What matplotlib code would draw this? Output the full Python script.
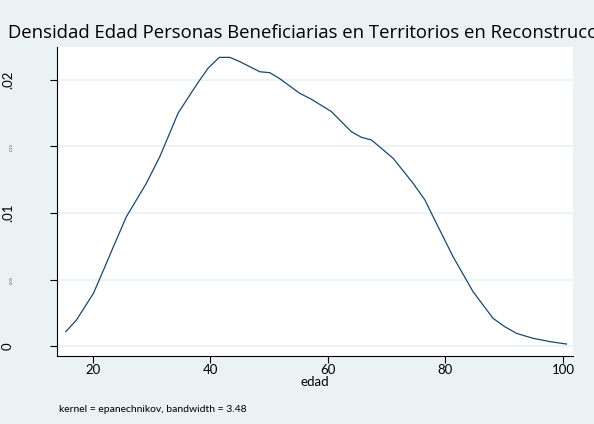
import matplotlib.pyplot as plt

# kernel density of edad
edad = [15.4, 17.2, 20.1, 21.8, 23.5, 25.7, 29.1, 31.4, 34.5, 36.5, 38.2, 39.6,
        41.5, 43.3, 45.0, 46.7, 48.4, 50.1, 51.8, 53.8, 55.2, 57.2, 60.6, 64.0,
        65.7, 67.4, 69.1, 71.1, 74.5, 76.5, 77.9, 81.3, 84.7, 88.1, 90.1, 92.1,
        94.9, 97.8, 100.6]
densidad = [0.00108, 0.00195, 0.00396, 0.0057, 0.00747, 0.00972, 0.01223, 0.01424,
            0.0175, 0.01887, 0.0200, 0.02088, 0.0217, 0.0217, 0.02138, 0.0210,
            0.02062, 0.02055, 0.0201, 0.01945, 0.0190, 0.01855, 0.01762, 0.01611,
            0.01569, 0.01549, 0.01486, 0.01411, 0.01223, 0.01098, 0.00972, 0.00671,
            0.00408, 0.00208, 0.00145, 0.00095, 0.00058, 0.00033, 0.00015]

yticks = [0, 0.005, 0.01, 0.015, 0.02]
ylabels = ["0", ".005", ".01", ".015", ".02"]
xticks = [20, 40, 60, 80, 100]

bg = "#eaf2f3"
fig = plt.figure(figsize=(5.94, 4.24), dpi=100, facecolor=bg)
ax = fig.add_axes([57 / 594, 1 - 356 / 424, 516 / 594, 309 / 424])
ax.set_facecolor("white")

ax.plot(edad, densidad, color="#1a476f", lw=0.9)

ax.set_xlim(13.9, 101.7)
ax.set_ylim(-0.00075, 0.02248)
ax.set_xticks(xticks)
ax.set_yticks(yticks)
ax.set_yticklabels(ylabels, rotation=90, va="center", family="Lato", fontsize=9.5)
ax.set_xticklabels([str(t) for t in xticks], family="Lato", fontsize=9.5)
# the .005 / .015 labels come out as tiny smudges in the original
for i, lab in enumerate(ax.get_yticklabels()):
    if i in (1, 3):
        lab.set_fontsize(3)
        lab.set_color("#555555")

ax.grid(axis="y", color=bg, lw=1.2)
ax.set_axisbelow(True)
for s in ["top", "right"]:
    ax.spines[s].set_visible(False)
for s in ["left", "bottom"]:
    ax.spines[s].set_linewidth(0.8)
ax.tick_params(direction="out", length=5, width=0.8)
ax.tick_params(axis="x", pad=1)
ax.tick_params(axis="y", pad=26)

ax.set_xlabel("edad", family="Lato", fontsize=9.5, labelpad=0)

# title is clipped by the right edge in the original as well
fig.text(8 / 594, 1 - 33 / 424, "Densidad Edad Personas Beneficiarias en Territorios en Reconstrucción",
         family="Open Sans", fontsize=13.3, va="center", ha="left")
fig.text(59 / 594, 1 - 410 / 424, "kernel = epanechnikov, bandwidth = 3.48",
         family="Lato", fontsize=7.5, va="center", ha="left")

plt.savefig("out.png", dpi=100, facecolor=bg)
plt.close()
